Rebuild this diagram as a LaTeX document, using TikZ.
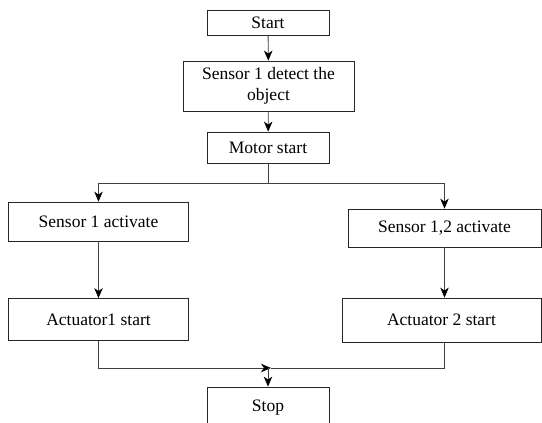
\documentclass[tikz,border=0pt]{standalone}
\usepackage{fontspec}
\setmainfont{Liberation Serif}
\usetikzlibrary{arrows.meta}
\begin{document}
\begin{tikzpicture}[x=1pt,y=-1pt,
  box/.style={draw=black!85, line width=0.8pt, inner sep=0pt, align=center,
    font=\fontsize{17.5}{21}\selectfont},
  conn/.style={draw=black!75, line width=0.8pt},
  arr/.style={conn, -{Stealth[length=10pt,width=8.5pt,inset=3pt,fill=black,color=black]}}]
\useasboundingbox (0,0) rectangle (542,423);
\clip (0,0) rectangle (542,423);
\node[box, minimum width=122pt, minimum height=25pt] (start) at (268,22.5) {Start};
\node[box, minimum width=171pt, minimum height=50pt] (detect) at (268.5,86) {Sensor 1 detect the\\object};
\node[box, minimum width=122pt, minimum height=31pt] (motor) at (268,147.5) {Motor start};
\node[box, minimum width=180pt, minimum height=39pt] (s1) at (98.5,221.5) {Sensor 1 activate};
\node[box, minimum width=193pt, minimum height=38pt] (s12) at (444.5,228) {Sensor 1,2 activate};
\node[box, minimum width=180pt, minimum height=42pt] (a1) at (98.5,319.5) {Actuator1 start};
\node[box, minimum width=199pt, minimum height=44pt] (a2) at (441.5,320) {Actuator 2 start};
\node[box, minimum width=122pt, minimum height=42pt] (stop) at (268,408) {Stop};
\coordinate (j1) at (268,183);
\coordinate (j2) at (271,368);
\coordinate (j3) at (268,368);
\draw[arr] (start) -- (detect);
\draw[arr] (detect) -- (motor);
\draw[conn] (motor.south) -- (j1);
\draw[arr] (j1) -| (s1.north);
\draw[arr] (j1) -| (s12.north);
\draw[arr] (s1.south) -- (s1.south |- a1.north);
\draw[arr] (s12.south) -- (s12.south |- a2.north);
\draw[arr] (a1.south) |- (j2);
\draw[conn] (a2.south -| s12.south) |- (j2);
\draw[arr] (j3) -- (stop.north);
\end{tikzpicture}
\end{document}
